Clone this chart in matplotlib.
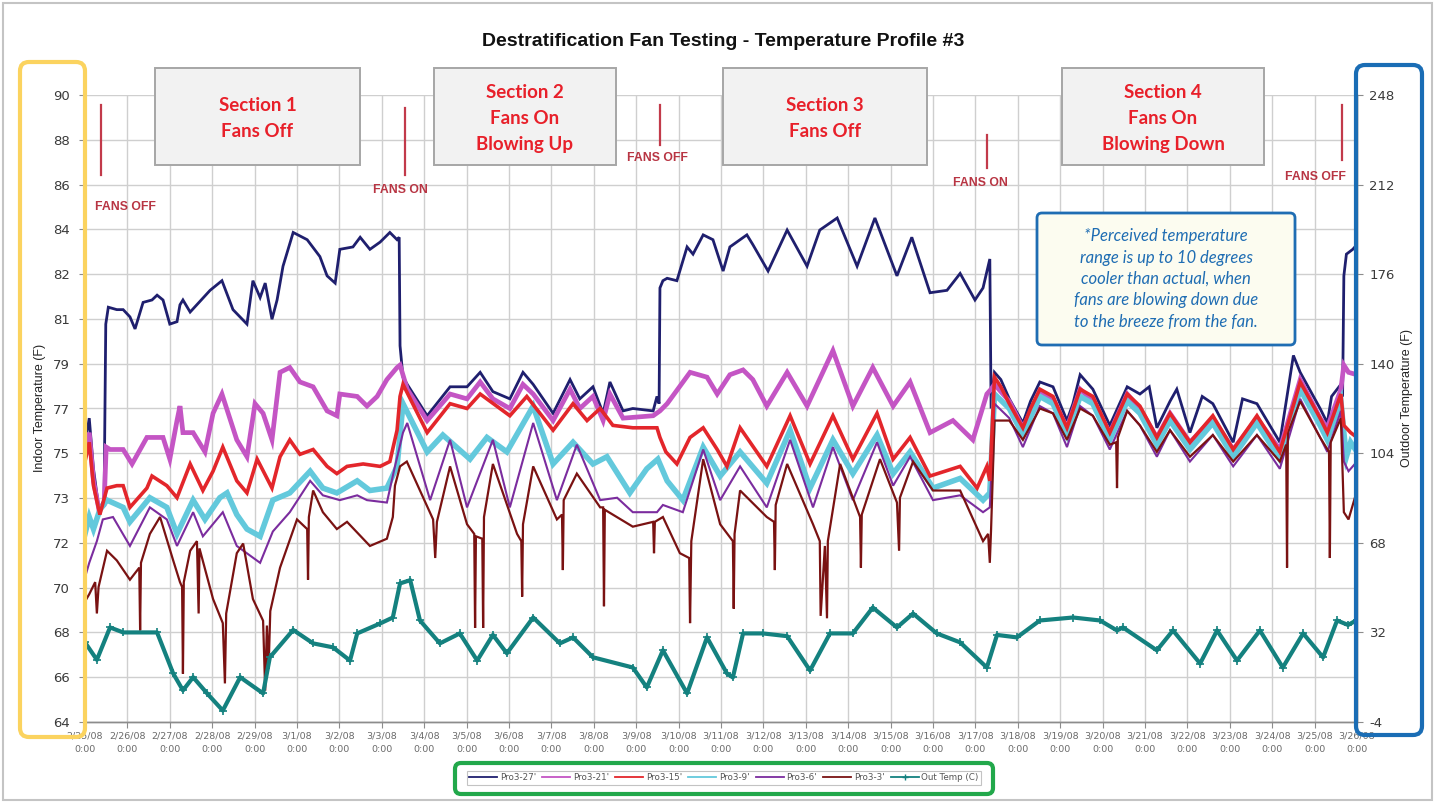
import datetime as dt
import numpy as np
import matplotlib
matplotlib.use("Agg")
import matplotlib.pyplot as plt
from matplotlib.patches import FancyBboxPatch, Rectangle
from matplotlib.transforms import IdentityTransform
from matplotlib.lines import Line2D

plt.rcParams["axes.unicode_minus"] = False

# ---------------- data (time in days since 2/25/08 0:00, temperatures in F) ----------------
PRO3_27 = [(0, 75.5), (0.1, 76.6), (0.2, 74.5), (0.33, 72.8), (0.45, 73.2), (0.49, 80.5), (0.55, 81.2), (0.75, 81.1),
           (0.9, 81.1), (1.06, 80.8), (1.18, 80.3), (1.37, 81.4), (1.58, 81.5), (1.70, 81.7), (1.84, 81.5), (2.0, 80.5),
           (2.17, 80.6), (2.24, 81.3), (2.31, 81.5), (2.48, 81.0), (2.95, 81.9), (3.23, 82.3), (3.49, 81.1), (3.82, 80.5),
           (3.96, 82.3), (4.13, 81.6), (4.25, 82.2), (4.41, 80.7), (4.53, 81.5), (4.67, 82.9), (4.91, 84.3), (5.24, 84.0),
           (5.54, 83.3), (5.71, 82.5), (5.90, 82.2), (6.01, 83.6), (6.32, 83.7), (6.49, 84.1), (6.72, 83.6), (6.96, 83.9),
           (7.19, 84.3), (7.36, 84.0), (7.41, 84.1), (7.43, 79.6), (7.5, 78.3), (7.6, 78.0), (8.07, 76.7), (8.61, 77.9),
           (9.01, 77.9), (9.32, 78.5), (9.62, 77.7), (10.02, 77.4), (10.33, 78.5), (10.57, 78.0), (11.04, 76.8),
           (11.44, 78.2), (11.67, 77.4), (11.98, 77.9), (12.22, 76.8), (12.38, 78.1), (12.69, 76.9), (12.92, 77.0),
           (13.4, 76.9), (13.49, 77.5), (13.54, 77.2), (13.56, 82.0), (13.63, 82.3), (13.73, 82.4), (13.96, 82.3),
           (14.2, 83.7), (14.34, 83.4), (14.58, 84.2), (14.81, 84.0), (15.05, 82.7), (15.21, 83.7), (15.61, 84.2),
           (15.75, 83.8), (16.11, 82.7), (16.56, 84.4), (17.03, 82.9), (17.33, 84.4), (17.74, 84.9), (18.21, 82.9),
           (18.63, 84.9), (19.15, 82.5), (19.5, 84.1), (19.93, 81.8), (20.33, 81.9), (20.64, 82.6), (20.99, 81.5),
           (21.18, 82.0), (21.34, 83.2), (21.37, 77.0), (21.45, 78.5), (21.6, 78.2), (21.8, 77.4), (22.12, 76.4),
           (22.3, 77.3), (22.52, 78.1), (22.83, 77.9), (23.16, 76.5), (23.3, 77.2), (23.47, 78.4), (23.77, 77.8),
           (24.17, 76.3), (24.58, 77.9), (24.88, 77.6), (25.1, 77.9), (25.28, 76.2), (25.59, 77.3), (25.75, 77.8),
           (26.06, 76.0), (26.35, 77.5), (26.6, 77.2), (27.08, 75.6), (27.3, 77.4), (27.64, 77.2), (28.18, 75.6),
           (28.35, 77.5), (28.5, 79.2), (28.66, 78.5), (29.13, 77.0), (29.3, 76.4), (29.4, 77.5), (29.62, 78.0),
           (29.66, 77.5), (29.69, 82.5), (29.75, 83.4), (29.9, 83.6), (30, 83.8)]

PRO3_21 = [(0, 75.0), (0.1, 76.0), (0.2, 74.0), (0.33, 72.8), (0.45, 73.0), (0.5, 75.4), (0.59, 75.3), (0.9, 75.3),
           (1.11, 74.7), (1.46, 75.8), (1.84, 75.8), (2.0, 74.9), (2.17, 76.5), (2.24, 77.1), (2.31, 76.0), (2.55, 76.0),
           (2.83, 75.2), (3.02, 76.8), (3.23, 77.6), (3.58, 75.7), (3.82, 75.0), (4.01, 77.2), (4.20, 76.8), (4.41, 75.7),
           (4.60, 78.5), (4.83, 78.7), (5.07, 78.1), (5.38, 77.9), (5.71, 76.9), (5.94, 76.7), (6.01, 77.6), (6.42, 77.5),
           (6.65, 77.1), (6.89, 77.5), (7.12, 78.2), (7.36, 78.7), (7.43, 78.8), (7.6, 77.8), (8.07, 76.5), (8.61, 77.6),
           (9.01, 77.4), (9.32, 78.1), (9.62, 77.4), (10.02, 77.0), (10.33, 78.0), (10.57, 77.6), (11.04, 76.5),
           (11.44, 77.8), (11.67, 77.0), (11.98, 77.5), (12.22, 76.5), (12.38, 77.6), (12.69, 76.6), (13.4, 76.7),
           (13.56, 76.9), (13.73, 77.2), (14.27, 78.5), (14.67, 78.3), (14.91, 77.6), (15.21, 78.4), (15.52, 78.6),
           (15.75, 78.2), (16.08, 77.1), (16.56, 78.5), (17.03, 77.1), (17.64, 79.4), (18.11, 77.1), (18.58, 78.7),
           (19.06, 77.1), (19.46, 78.1), (19.93, 76.0), (20.47, 76.5), (20.94, 75.7), (21.27, 77.6), (21.37, 77.8),
           (21.45, 78.0), (21.8, 77.3), (22.12, 76.2), (22.52, 77.7), (22.83, 77.4), (23.16, 76.2), (23.47, 77.8),
           (23.77, 77.3), (24.17, 76.0), (24.58, 77.6), (24.88, 77.0), (25.28, 75.8), (25.59, 76.8), (26.06, 75.6),
           (26.6, 76.6), (27.08, 75.3), (27.64, 76.6), (28.18, 75.3), (28.66, 78.2), (29.13, 76.6), (29.3, 76.2),
           (29.62, 77.8), (29.69, 78.8), (29.8, 78.5), (30, 78.4)]

PRO3_15 = [(0, 74.8), (0.1, 75.6), (0.2, 73.8), (0.35, 72.6), (0.52, 73.7), (0.75, 73.8), (0.9, 73.8), (1.06, 72.9),
           (1.46, 73.7), (1.58, 74.2), (1.93, 73.8), (2.17, 73.3), (2.48, 74.7), (2.78, 73.6), (3.02, 74.4), (3.25, 75.4),
           (3.58, 74.0), (3.82, 73.5), (4.06, 74.9), (4.41, 73.7), (4.60, 75.0), (4.83, 75.7), (5.07, 75.1), (5.38, 75.3),
           (5.71, 74.6), (5.94, 74.3), (6.18, 74.6), (6.56, 74.7), (6.96, 74.6), (7.19, 74.8), (7.36, 76.1), (7.43, 77.5),
           (7.5, 78.0), (8.07, 76.0), (8.61, 77.2), (9.01, 77.0), (9.32, 77.6), (10.02, 76.7), (10.42, 77.5),
           (11.04, 76.1), (11.51, 77.2), (11.84, 76.5), (12.15, 77.0), (12.45, 76.3), (12.92, 76.2), (13.49, 76.2),
           (13.56, 75.8), (13.7, 75.2), (13.96, 74.7), (14.27, 75.8), (14.58, 76.2), (14.91, 75.3), (15.14, 74.6),
           (15.45, 76.2), (16.08, 74.6), (16.63, 76.7), (17.1, 74.7), (17.64, 76.7), (18.11, 74.9), (18.68, 76.8),
           (19.06, 74.9), (19.46, 75.8), (19.93, 74.2), (20.64, 74.6), (21.04, 73.7), (21.27, 74.6), (21.34, 74.0),
           (21.45, 78.3), (21.6, 77.9), (21.8, 77.2), (22.12, 76.2), (22.3, 77.0), (22.52, 77.8), (22.83, 77.5),
           (23.16, 76.2), (23.47, 77.8), (23.77, 77.5), (24.17, 76.0), (24.58, 77.6), (24.88, 77.1), (25.28, 75.8),
           (25.59, 76.8), (26.06, 75.6), (26.6, 76.7), (27.08, 75.3), (27.64, 76.7), (28.18, 75.2), (28.66, 78.1),
           (29.13, 76.6), (29.3, 76.0), (29.62, 77.6), (29.69, 76.3), (29.85, 76.0), (30, 75.8)]

PRO3_9 = [(0, 71.8), (0.1, 72.5), (0.2, 72.0), (0.35, 72.8), (0.52, 73.2), (0.9, 72.9), (1.06, 72.3), (1.53, 73.3),
          (1.93, 72.9), (2.17, 71.8), (2.55, 73.2), (2.83, 72.4), (3.18, 73.3), (3.35, 73.5), (3.58, 72.6), (3.82, 72.0),
          (4.13, 71.7), (4.43, 73.2), (4.83, 73.5), (5.31, 74.4), (5.61, 73.7), (5.94, 73.5), (6.42, 74.0), (6.72, 73.6),
          (7.12, 73.7), (7.36, 74.6), (7.5, 77.2), (8.07, 75.2), (8.44, 75.9), (9.08, 74.9), (9.48, 75.8), (9.95, 75.2),
          (10.57, 77.1), (11.04, 74.7), (11.51, 75.6), (11.98, 74.7), (12.31, 75.0), (12.85, 73.5), (13.25, 74.5),
          (13.51, 74.9), (13.73, 74.0), (14.1, 73.2), (14.58, 75.4), (14.98, 74.2), (15.45, 75.2), (16.08, 73.9),
          (16.63, 76.1), (17.1, 73.7), (17.64, 75.7), (18.11, 74.3), (18.68, 75.9), (19.06, 74.3), (19.46, 75.2),
          (20.0, 73.7), (20.64, 74.1), (21.18, 73.2), (21.34, 73.5), (21.45, 77.6), (21.8, 77.0), (22.12, 75.9),
          (22.52, 77.5), (22.83, 77.2), (23.16, 75.9), (23.47, 77.5), (23.77, 77.2), (24.17, 75.7), (24.58, 77.3),
          (24.88, 76.8), (25.28, 75.5), (25.59, 76.5), (26.06, 75.3), (26.6, 76.4), (27.08, 75.0), (27.64, 76.4),
          (28.18, 74.9), (28.66, 77.8), (29.13, 76.3), (29.3, 75.7), (29.62, 77.3), (29.69, 76.0), (29.75, 75.0),
          (29.85, 75.6), (30, 75.2)]

PRO3_6 = [(0, 70.0), (0.1, 70.6), (0.28, 71.5), (0.42, 72.4), (0.66, 72.5), (1.06, 71.3), (1.53, 72.9), (1.93, 72.4),
          (2.17, 71.3), (2.55, 72.7), (2.78, 71.7), (3.25, 72.7), (3.58, 71.3), (4.13, 70.6), (4.43, 71.9), (4.83, 72.7),
          (5.31, 74.0), (5.61, 73.4), (6.01, 73.2), (6.42, 73.4), (6.65, 73.2), (7.12, 73.1), (7.31, 74.6), (7.5, 76.0),
          (7.6, 76.4), (8.14, 73.2), (8.61, 75.7), (9.01, 72.9), (9.62, 75.7), (10.02, 72.9), (10.57, 76.4),
          (11.13, 73.2), (11.6, 75.5), (12.15, 73.2), (12.55, 73.3), (12.92, 72.7), (13.49, 72.7), (13.63, 73.0),
          (14.1, 72.7), (14.58, 75.3), (14.98, 73.2), (15.45, 74.6), (16.08, 72.9), (16.63, 75.7), (17.17, 72.9),
          (17.64, 75.4), (18.11, 73.2), (18.68, 75.6), (19.06, 73.8), (19.46, 75.0), (20.0, 73.2), (20.64, 73.4),
          (21.18, 72.7), (21.34, 72.9), (21.45, 77.2), (21.8, 76.6), (22.12, 75.4), (22.52, 77.1), (22.83, 76.8),
          (23.16, 75.4), (23.47, 77.1), (23.77, 76.7), (24.17, 75.3), (24.58, 76.9), (24.88, 76.3), (25.28, 75.0),
          (25.59, 76.1), (26.06, 74.8), (26.6, 75.9), (27.08, 74.6), (27.64, 75.9), (28.18, 74.5), (28.66, 77.4),
          (29.13, 75.8), (29.3, 75.2), (29.62, 76.9), (29.69, 74.8), (29.8, 74.4), (30, 74.8)]

PRO3_3 = [(0, 69.0), (0.1, 69.3), (0.24, 69.8), (0.28, 68.5), (0.32, 69.6), (0.52, 71.1), (0.75, 70.7), (1.06, 69.9),
          (1.28, 70.4), (1.30, 67.8), (1.32, 70.6), (1.53, 71.8), (1.77, 72.5), (2.08, 70.7), (2.24, 69.8), (2.29, 69.6),
          (2.31, 66.0), (2.33, 69.8), (2.48, 71.1), (2.64, 71.5), (2.68, 68.5), (2.70, 71.2), (3.02, 69.1), (3.25, 68.1),
          (3.30, 65.6), (3.33, 68.5), (3.58, 71.0), (3.73, 71.4), (3.96, 69.1), (4.2, 68.2), (4.25, 65.3), (4.29, 68.0),
          (4.33, 66.2), (4.37, 68.6), (4.60, 70.4), (5.0, 72.4), (5.24, 72.0), (5.26, 69.9), (5.28, 72.5), (5.38, 73.6),
          (5.61, 72.7), (5.94, 72.0), (6.18, 72.3), (6.72, 71.3), (7.12, 71.6), (7.26, 72.5), (7.31, 73.8), (7.43, 74.6),
          (7.59, 74.8), (8.21, 72.4), (8.26, 70.8), (8.3, 72.3), (8.61, 74.6), (9.01, 72.2), (9.18, 71.8), (9.2, 67.9),
          (9.22, 71.7), (9.37, 71.6), (9.39, 67.9), (9.41, 72.5), (9.62, 74.7), (10.19, 71.8), (10.29, 71.5),
          (10.31, 69.2), (10.33, 72.2), (10.57, 74.6), (11.13, 72.4), (11.25, 72.6), (11.27, 70.3), (11.29, 73.2),
          (11.6, 74.3), (12.15, 72.9), (12.22, 72.9), (12.24, 68.8), (12.26, 72.8), (12.92, 72.1), (13.4, 72.3),
          (13.42, 71.0), (13.44, 72.3), (13.63, 72.5), (14.03, 71.0), (14.25, 70.8), (14.27, 68.1), (14.30, 71.5),
          (14.58, 74.9), (14.98, 72.2), (15.28, 71.5), (15.30, 68.7), (15.32, 71.8), (15.45, 73.6), (16.08, 72.5),
          (16.25, 72.3), (16.27, 70.3), (16.29, 73.0), (16.56, 74.7), (17.17, 72.2), (17.33, 71.5), (17.35, 68.4),
          (17.45, 71.3), (17.50, 68.3), (17.52, 71.5), (17.81, 74.7), (18.28, 72.5), (18.30, 70.4), (18.32, 72.6),
          (18.75, 74.9), (19.15, 73.1), (19.2, 71.1), (19.22, 73.3), (19.53, 74.8), (20.0, 73.6), (20.64, 73.6),
          (21.18, 71.5), (21.30, 71.8), (21.34, 70.6), (21.37, 72.0), (21.45, 76.5), (21.8, 76.5), (22.12, 75.7),
          (22.52, 77.0), (22.83, 76.8), (23.16, 75.7), (23.47, 77.0), (23.77, 76.7), (24.17, 75.5), (24.32, 75.6),
          (24.34, 73.7), (24.36, 75.8), (24.58, 76.9), (24.88, 76.3), (25.28, 75.2), (25.59, 76.1), (26.06, 75.0),
          (26.6, 75.9), (27.08, 74.8), (27.64, 75.9), (28.18, 74.8), (28.33, 75.5), (28.35, 70.4), (28.37, 76.0),
          (28.66, 77.3), (29.13, 75.8), (29.34, 75.2), (29.36, 70.8), (29.38, 75.6), (29.62, 76.6), (29.69, 72.7),
          (29.8, 72.4), (30, 73.6)]

OUT_TEMP = [(0, 28.0), (0.28, 21.0), (0.59, 34.0), (0.9, 32.0), (1.7, 32.0), (2.08, 15.5), (2.31, 8.7), (2.55, 14.0),
            (2.88, 7.5), (3.25, 0.6), (3.66, 14.0), (4.2, 7.5), (4.36, 22.0), (4.91, 33.0), (5.38, 27.6), (5.85, 26.0),
            (6.25, 20.7), (6.42, 31.6), (6.96, 35.6), (7.26, 38.0), (7.43, 51.7), (7.67, 53.0), (7.9, 36.8),
            (8.37, 27.6), (8.84, 31.6), (9.25, 20.7), (9.62, 31.0), (9.95, 23.6), (10.57, 38.0), (11.2, 27.6),
            (11.51, 30.0), (11.98, 22.0), (12.92, 17.9), (13.25, 9.9), (13.63, 24.8), (14.2, 7.5), (14.67, 30.0),
            (15.14, 15.5), (15.28, 13.9), (15.52, 31.6), (15.99, 31.6), (16.56, 30.5), (17.1, 16.7), (17.57, 31.6),
            (18.11, 31.6), (18.58, 42.0), (19.15, 34.0), (19.53, 39.6), (20.09, 31.6), (20.64, 28.0), (21.27, 17.9),
            (21.51, 31.0), (21.98, 30.0), (22.52, 36.8), (23.3, 38.0), (23.94, 36.8), (24.34, 32.8), (24.48, 34.0),
            (25.28, 24.8), (25.66, 32.8), (26.3, 19.5), (26.7, 32.8), (27.17, 20.7), (27.71, 32.8), (28.25, 17.9),
            (28.73, 31.6), (29.2, 22.0), (29.53, 36.8), (29.79, 35.0), (30, 37.0)]

SERIES_NAMES = ["Pro3-27'", "Pro3-21'", "Pro3-15'", "Pro3-9'", "Pro3-6'", "Pro3-3'"]
OUT_NAME = "Out Temp (C)"

START_DATE = dt.date(2008, 2, 25)
N_DAYS = 30
DAY_LABELS = [f"{d.month}/{d.day}/08\n0:00" for d in (START_DATE + dt.timedelta(days=i) for i in range(N_DAYS + 1))]
INDOOR_TICK_LABELS = ["64", "66", "68", "70", "72", "73", "75", "77", "79", "81", "82", "84", "86", "88", "90"]
OUTDOOR_TICKS = [-4, 32, 68, 104, 140, 176, 212, 248]

# fan events: (day, label)
FAN_EVENTS = [(0.38, "FANS OFF"), (7.55, "FANS ON"), (13.56, "FANS OFF"), (21.27, "FANS ON"), (29.65, "FANS OFF")]
SECTION_TEXTS = ["Section 1\nFans Off", "Section 2\nFans On\nBlowing Up", "Section 3\nFans Off",
                 "Section 4\nFans On\nBlowing Down"]
NOTE_TEXT = ("*Perceived temperature\nrange is up to 10 degrees\ncooler than actual, when\n"
             "fans are blowing down due\nto the breeze from the fan.")

# ---------------- styling ----------------
W, H = 1442, 806
COLORS = ["#1f1f6e", "#c455c4", "#e3262b", "#63c9dc", "#7b2c9e", "#7a1212"]
LWS = [2.0, 3.4, 2.6, 4.0, 1.5, 1.6]
ZORD = [2.0, 2.1, 2.6, 2.2, 2.3, 2.4]
OUT_COLOR = "#14817f"

fig = plt.figure(figsize=(W / 100, H / 100), dpi=100)
fig.patch.set_facecolor("white")


def fx(px):
    return px / W


def fy(py):
    return 1 - py / H


ax = fig.add_axes([fx(85), fy(722), fx(1357) - fx(85), fy(95) - fy(722)])
ax2 = ax.twinx()

handles = []
for name, data, c, lw, z in zip(SERIES_NAMES, [PRO3_27, PRO3_21, PRO3_15, PRO3_9, PRO3_6, PRO3_3], COLORS, LWS, ZORD):
    arr = np.array(data)
    ax.plot(arr[:, 0], arr[:, 1], color=c, lw=lw, zorder=z, solid_joinstyle="miter")
    handles.append(Line2D([], [], color=c, lw=1.3))

out = np.array(OUT_TEMP)
ax2.plot(out[:, 0], out[:, 1], color=OUT_COLOR, lw=3.0, marker="+", ms=6, mew=1.2, zorder=3)
handles.append(Line2D([], [], color=OUT_COLOR, lw=1.3, marker="+", ms=5))

ax.set_xlim(0, N_DAYS)
ax.set_ylim(64, 90)
ax2.set_ylim(-4, 248)
ax.set_yticks(np.linspace(64, 90, 15))
ax.set_yticklabels(INDOOR_TICK_LABELS)
ax2.set_yticks(OUTDOOR_TICKS)
ax.set_xticks(np.arange(N_DAYS + 1))
ax.set_xticklabels(DAY_LABELS)

ax.grid(True, color="#cfcfcf", lw=1.0)
ax.set_axisbelow(True)
for a in (ax, ax2):
    a.spines["top"].set_visible(False)
    for s in ("left", "right", "bottom"):
        a.spines[s].set_color("#8c8c8c")
        a.spines[s].set_linewidth(1.0)
ax.tick_params(axis="y", labelsize=9.5, colors="#8c8c8c", labelcolor="#3a3a3a", length=4, pad=7)
ax2.tick_params(axis="y", labelsize=9.5, colors="#8c8c8c", labelcolor="#3a3a3a", length=4, pad=5)
ax.tick_params(axis="x", labelsize=6.8, colors="#8c8c8c", labelcolor="#6a6a6a", length=4, pad=3)
for lbl in ax.get_xticklabels():
    lbl.set_linespacing(1.6)

fig.text(fx(40), fy(408), "Indoor Temperature (F)", rotation=90, ha="center", va="center",
         fontsize=9, color="#222222", family="Liberation Sans")
fig.text(fx(1407), fy(398), "Outdoor Temperature (F)", rotation=90, ha="center", va="center",
         fontsize=9, color="#222222", family="Liberation Sans")

fig.text(fx(723), fy(42), "Destratification Fan Testing - Temperature Profile #3", ha="center", va="center",
         fontsize=14, weight="bold", color="#111111", family="Liberation Sans")

# fan event markers (pixel placement of the annotation strokes and labels)
FAN_MARK_PX = [(105, 175, 125, 207), (108, 175, 400, 190), (105, 145, 657, 158), (135, 168, 980, 183),
               (105, 160, 1315, 177)]


def yval(py):
    return 90 - (py - 95) * 26.0 / 627.0


def xval(px):
    return (px - 85) * N_DAYS / 1272.0


for (day, txt), (ytop, ybot, lx, ly) in zip(FAN_EVENTS, FAN_MARK_PX):
    ax.plot([day, day], [yval(ytop), yval(ybot)], color="#c23a4a", lw=1.6, zorder=5)
    ax.text(xval(lx), yval(ly), txt, ha="center", va="center", fontsize=8.8, weight="bold",
            color="#b83543", family="Liberation Sans", zorder=5)

ident = IdentityTransform()


def px_rect(x0, y0, x1, y1, **kw):
    return Rectangle((x0, H - y1), x1 - x0, y1 - y0, transform=ident, **kw)


def px_round(x0, y0, x1, y1, r=8, **kw):
    return FancyBboxPatch((x0, H - y1), x1 - x0, y1 - y0, boxstyle=f"round,pad=0,rounding_size={r}",
                          transform=ident, **kw)


# section boxes
SEC_BOX_PX = [(155, 68, 360, 165), (434, 68, 616, 165), (723, 68, 927, 165), (1062, 68, 1264, 165)]
for (x0, y0, x1, y1), txt in zip(SEC_BOX_PX, SECTION_TEXTS):
    fig.add_artist(px_rect(x0, y0, x1, y1, facecolor="#f2f2f2", edgecolor="#a6a6a6", lw=1.4, zorder=6))
    fig.text(fx((x0 + x1) / 2), fy((y0 + y1) / 2 + 2), txt, ha="center", va="center", fontsize=13.5,
             weight="bold", color="#e8202a", family="Lato", linespacing=1.62, zorder=7)

# note box
fig.add_artist(px_round(1037, 213, 1295, 345, r=5, facecolor="#fcfcf0", edgecolor="#1f6db3", lw=2.0, zorder=6))
fig.text(fx(1166), fy(279), NOTE_TEXT, ha="center", va="center", fontsize=12, style="italic",
         color="#1f6db3", family="Lato", linespacing=1.42, zorder=7)

# highlight boxes
fig.add_artist(px_round(20, 62, 85, 737, r=9, facecolor="none", edgecolor="#fbd35f", lw=3.0, zorder=8))
fig.add_artist(px_round(1356, 65, 1422, 735, r=9, facecolor="none", edgecolor="#1a6db5", lw=3.0, zorder=8))
fig.add_artist(px_round(455, 763, 993, 794, r=6, facecolor="none", edgecolor="#22a84b", lw=3.0, zorder=8))

# outer frame
fig.add_artist(px_rect(3, 3, 1432, 800, facecolor="none", edgecolor="#c4c4c4", lw=1.5, zorder=0))

leg = fig.legend(handles, SERIES_NAMES + [OUT_NAME], loc="center", bbox_to_anchor=(fx(724), fy(778)), ncol=7,
                 fontsize=6.3, frameon=True, fancybox=False, edgecolor="#b5b5b5", handlelength=3.2,
                 handletextpad=0.3, columnspacing=0.7, borderpad=0.3, labelcolor="#555555")
leg.get_frame().set_linewidth(0.8)

fig.savefig("out.png", dpi=100, facecolor="white")
